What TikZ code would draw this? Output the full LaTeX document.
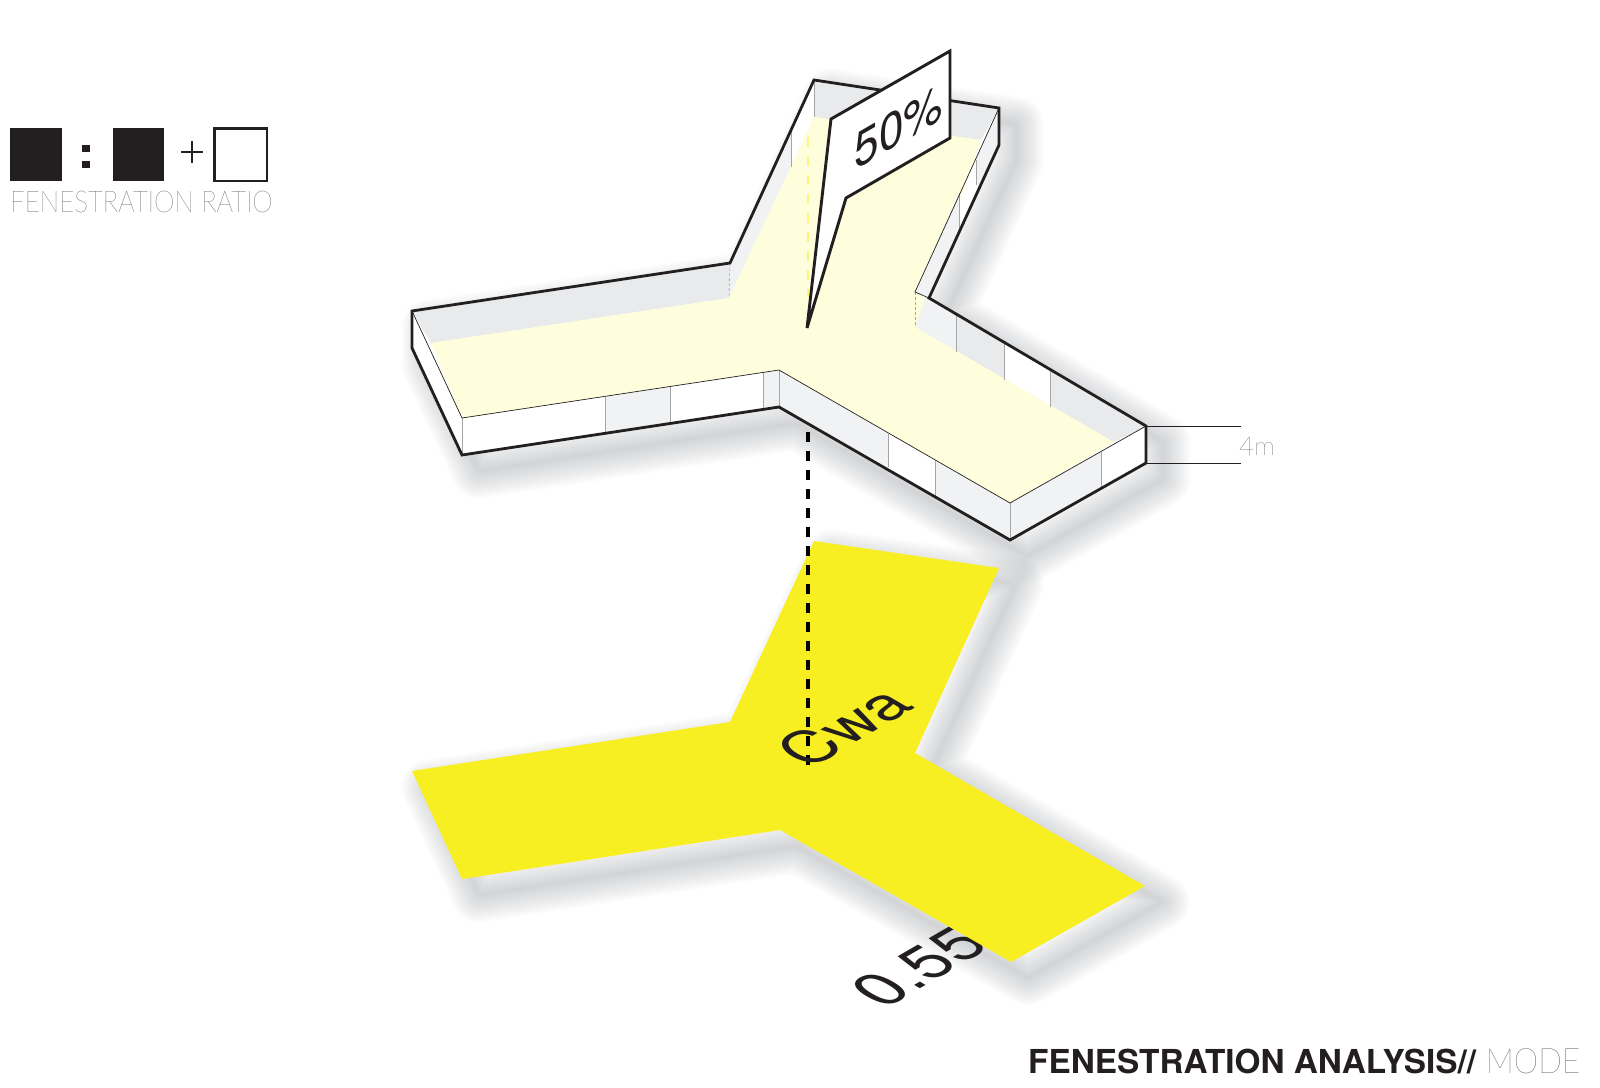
\documentclass[tikz,border=0pt]{standalone}
\usepackage{fontspec}
\setmainfont{TeX Gyre Heros}
\newfontfamily\thinfont{Lato Hairline}
\definecolor{floorpale}{HTML}{FEFDDC}
\definecolor{floorbright}{HTML}{F8EF22}
\definecolor{wallgrey}{HTML}{E9EAEB}
\definecolor{wallpale}{HTML}{F1F2F3}
\definecolor{inkblack}{HTML}{231F20}
\definecolor{shadowgrey}{HTML}{4A5058}
\newcommand{\softshadow}[1]{%
  \foreach \w in {3,7,...,55}
    \path[shadowpiece,line width=\w pt,shift={(17,16)}] #1;
}
\tikzset{
  shadowpiece/.style={draw=shadowgrey,opacity=.018,line join=round},
  wall/.style={fill=wallgrey},
  wallsoft/.style={fill=wallpale},
  bold/.style={draw=inkblack,line width=2.8pt,line join=miter},
  panel/.style={draw=gray!70,line width=.6pt},
  hair/.style={draw=inkblack,line width=.7pt},
  drop/.style={draw=black,line width=3.4pt,dash pattern=on 10pt off 9pt},
  planetext/.style={cm={.866,.5,-.866,.5,(0,0)},text=inkblack,inner sep=0pt},
  thintext/.style={font=\thinfont,text=black!85,inner sep=0pt},
}
\begin{document}
\begin{tikzpicture}[x=1pt,y=-1pt]
\useasboundingbox (0,0) rectangle (1600,1087);

% shadows
\softshadow{(412,311) -- (730,263) -- (814,80) -- (999,108) -- (999,145) -- (929,298) -- (1146,426) -- (1146,463) -- (1010,540) -- (779,407) -- (462,455) -- (412,348) -- cycle}
\softshadow{(412,771) -- (730,722) -- (814,541) -- (999,568) -- (915,753) -- (1145,886) -- (1011,962) -- (780,830) -- (462,879) -- cycle}

% block, inside faces
\fill[white] (412,311) -- (730,263) -- (814,80) -- (999,108) -- (999,145) -- (929,298) -- (1146,426) -- (1146,463) -- (1010,540) -- (779,407) -- (462,455) -- (412,348) -- cycle;
\fill[wall] (412,311) -- (730,263) -- (729,298) -- (431,343) -- cycle;
\fill[wallsoft] (730,263) -- (791,130) -- (791,167) -- (729,298) -- cycle;
\fill[wall] (814,80) -- (999,108) -- (981,140) -- (814,117) -- cycle;
\fill[wallsoft] (915,292) -- (929,298) -- (956,314) -- (956,352) -- (915,327) -- cycle;
\fill[wall] (956,314) -- (1004,342) -- (1004,380) -- (956,352) -- cycle;
\fill[wall] (1050,369) -- (1146,426) -- (1114,442) -- (1050,407) -- cycle;
\fill[floorpale] (431,343) -- (729,298) -- (814,117) -- (981,140) -- (915,327) -- (1114,442) -- (1010,503) -- (779,370) -- (462,418) -- cycle;
\draw[panel,densely dashed] (730,263) -- (729,298);
\draw[panel,densely dashed] (915,292) -- (915,327);
\draw[panel] (814,80) -- (814,117);
\draw[panel] (791,130) -- (791,167);
\draw[panel] (956,314) -- (956,352);
\draw[panel] (1004,342) -- (1004,380);
\draw[panel] (1050,369) -- (1050,407);

% block, outside faces
\fill[wallsoft] (999,108) -- (999,145) -- (978,191) -- (976,160) -- cycle;
\fill[wallsoft] (959,193) -- (959,232) -- (929,298) -- (915,292) -- cycle;
\fill[wallsoft] (779,370) -- (888,434) -- (888,467) -- (779,407) -- cycle;
\fill[wallsoft] (935,461) -- (1010,503) -- (1010,540) -- (935,497) -- cycle;
\fill[wallsoft] (1010,503) -- (1101,452) -- (1101,488) -- (1010,540) -- cycle;
\fill[wallsoft] (605,397) -- (670,387) -- (670,423) -- (605,433) -- cycle;
\fill[wallsoft] (763,372) -- (779,370) -- (779,407) -- (763,410) -- cycle;
\draw[panel] (976,160) -- (976,185);
\draw[panel] (959,193) -- (959,232);
\draw[panel] (888,434) -- (888,467);
\draw[panel] (935,461) -- (935,497);
\draw[panel] (1101,452) -- (1101,488);
\draw[panel] (605,397) -- (605,433);
\draw[panel] (670,387) -- (670,423);
\draw[panel] (763,372) -- (763,410);
\draw[panel] (462,418) -- (462,455);
\draw[panel] (1010,503) -- (1010,540);
\draw[panel] (779,370) -- (779,407);
\draw[hair] (412,311) -- (462,418) -- (779,370) -- (1010,503) -- (1146,426);
\draw[hair] (999,108) -- (915,292) -- (929,298);
\draw[bold] (412,311) -- (730,263) -- (814,80) -- (999,108) -- (999,145) -- (929,298) -- (1146,426) -- (1146,463) -- (1010,540) -- (779,407) -- (462,455) -- (412,348) -- cycle;

% plan
\node[planetext,font=\fontsize{64}{64}\selectfont] (ratiovalue) at (919,967) {0.55};
\fill[floorbright] (412,771) -- (730,722) -- (814,541) -- (999,568) -- (915,753) -- (1145,886) -- (1011,962) -- (780,830) -- (462,879) -- cycle;

% section line
\coordinate (dropupper) at (808,432);
\coordinate (droplower) at (808,768);
\coordinate (ghostupper) at (808,137);
\coordinate (ghostlower) at (808,297);
\draw[drop,draw=floorbright!60,line width=1.6pt] (ghostupper) -- (ghostlower);
\draw[drop] (dropupper) -- (droplower);
\node[planetext,font=\fontsize{62}{62}\selectfont] (climate) at (843,727) {Cwa};

% flag
\draw[bold,fill=white,line width=2.9pt] (950,51) -- (950,138) -- (846,198) -- (807,328) -- (831,119) -- cycle;
\node[cm={.866,.5,0,1,(0,0)},font=\fontsize{51}{51}\selectfont,text=inkblack,inner sep=0pt] (wwr) at (899,127) {50\%};

% height
\coordinate (heightupper) at (1146,426);
\coordinate (heightlower) at (1146,463);
\coordinate (heightupperend) at (1241,426);
\coordinate (heightlowerend) at (1241,463);
\draw[draw=inkblack,line width=1pt] (heightupper) -- (heightupperend);
\draw[draw=inkblack,line width=1pt] (heightlower) -- (heightlowerend);
\node[thintext,font=\thinfont\fontsize{26}{26}\selectfont] (heightlabel) at (1257,446) {4m};

% legend
\fill[inkblack] (10,128) rectangle (62,181);
\fill[inkblack] (113,128) rectangle (164,181);
\fill[inkblack] (82,145) rectangle (90,152);
\fill[inkblack] (82,161) rectangle (90,168);
\draw[inkblack,line width=2.6pt] (181,152) -- (203,152) (192,141) -- (192,163);
\draw[inkblack,line width=2.8pt] (214.5,128.5) rectangle (267,181);
\node[thintext,font=\thinfont\fontsize{30}{30}\selectfont,anchor=base west,xscale=.865] (legendlabel) at (10,212) {FENESTRATION RATIO};

% title
\node[anchor=base west,inner sep=0pt,font=\fontsize{33}{33}\selectfont\bfseries,text=inkblack,xscale=1.01] (title) at (1028,1073) {FENESTRATION ANALYSIS//};
\node[thintext,font=\thinfont\fontsize{35}{35}\selectfont,anchor=base west,xscale=.89] (titlemode) at (1486,1073) {MODE};
\end{tikzpicture}
\end{document}
